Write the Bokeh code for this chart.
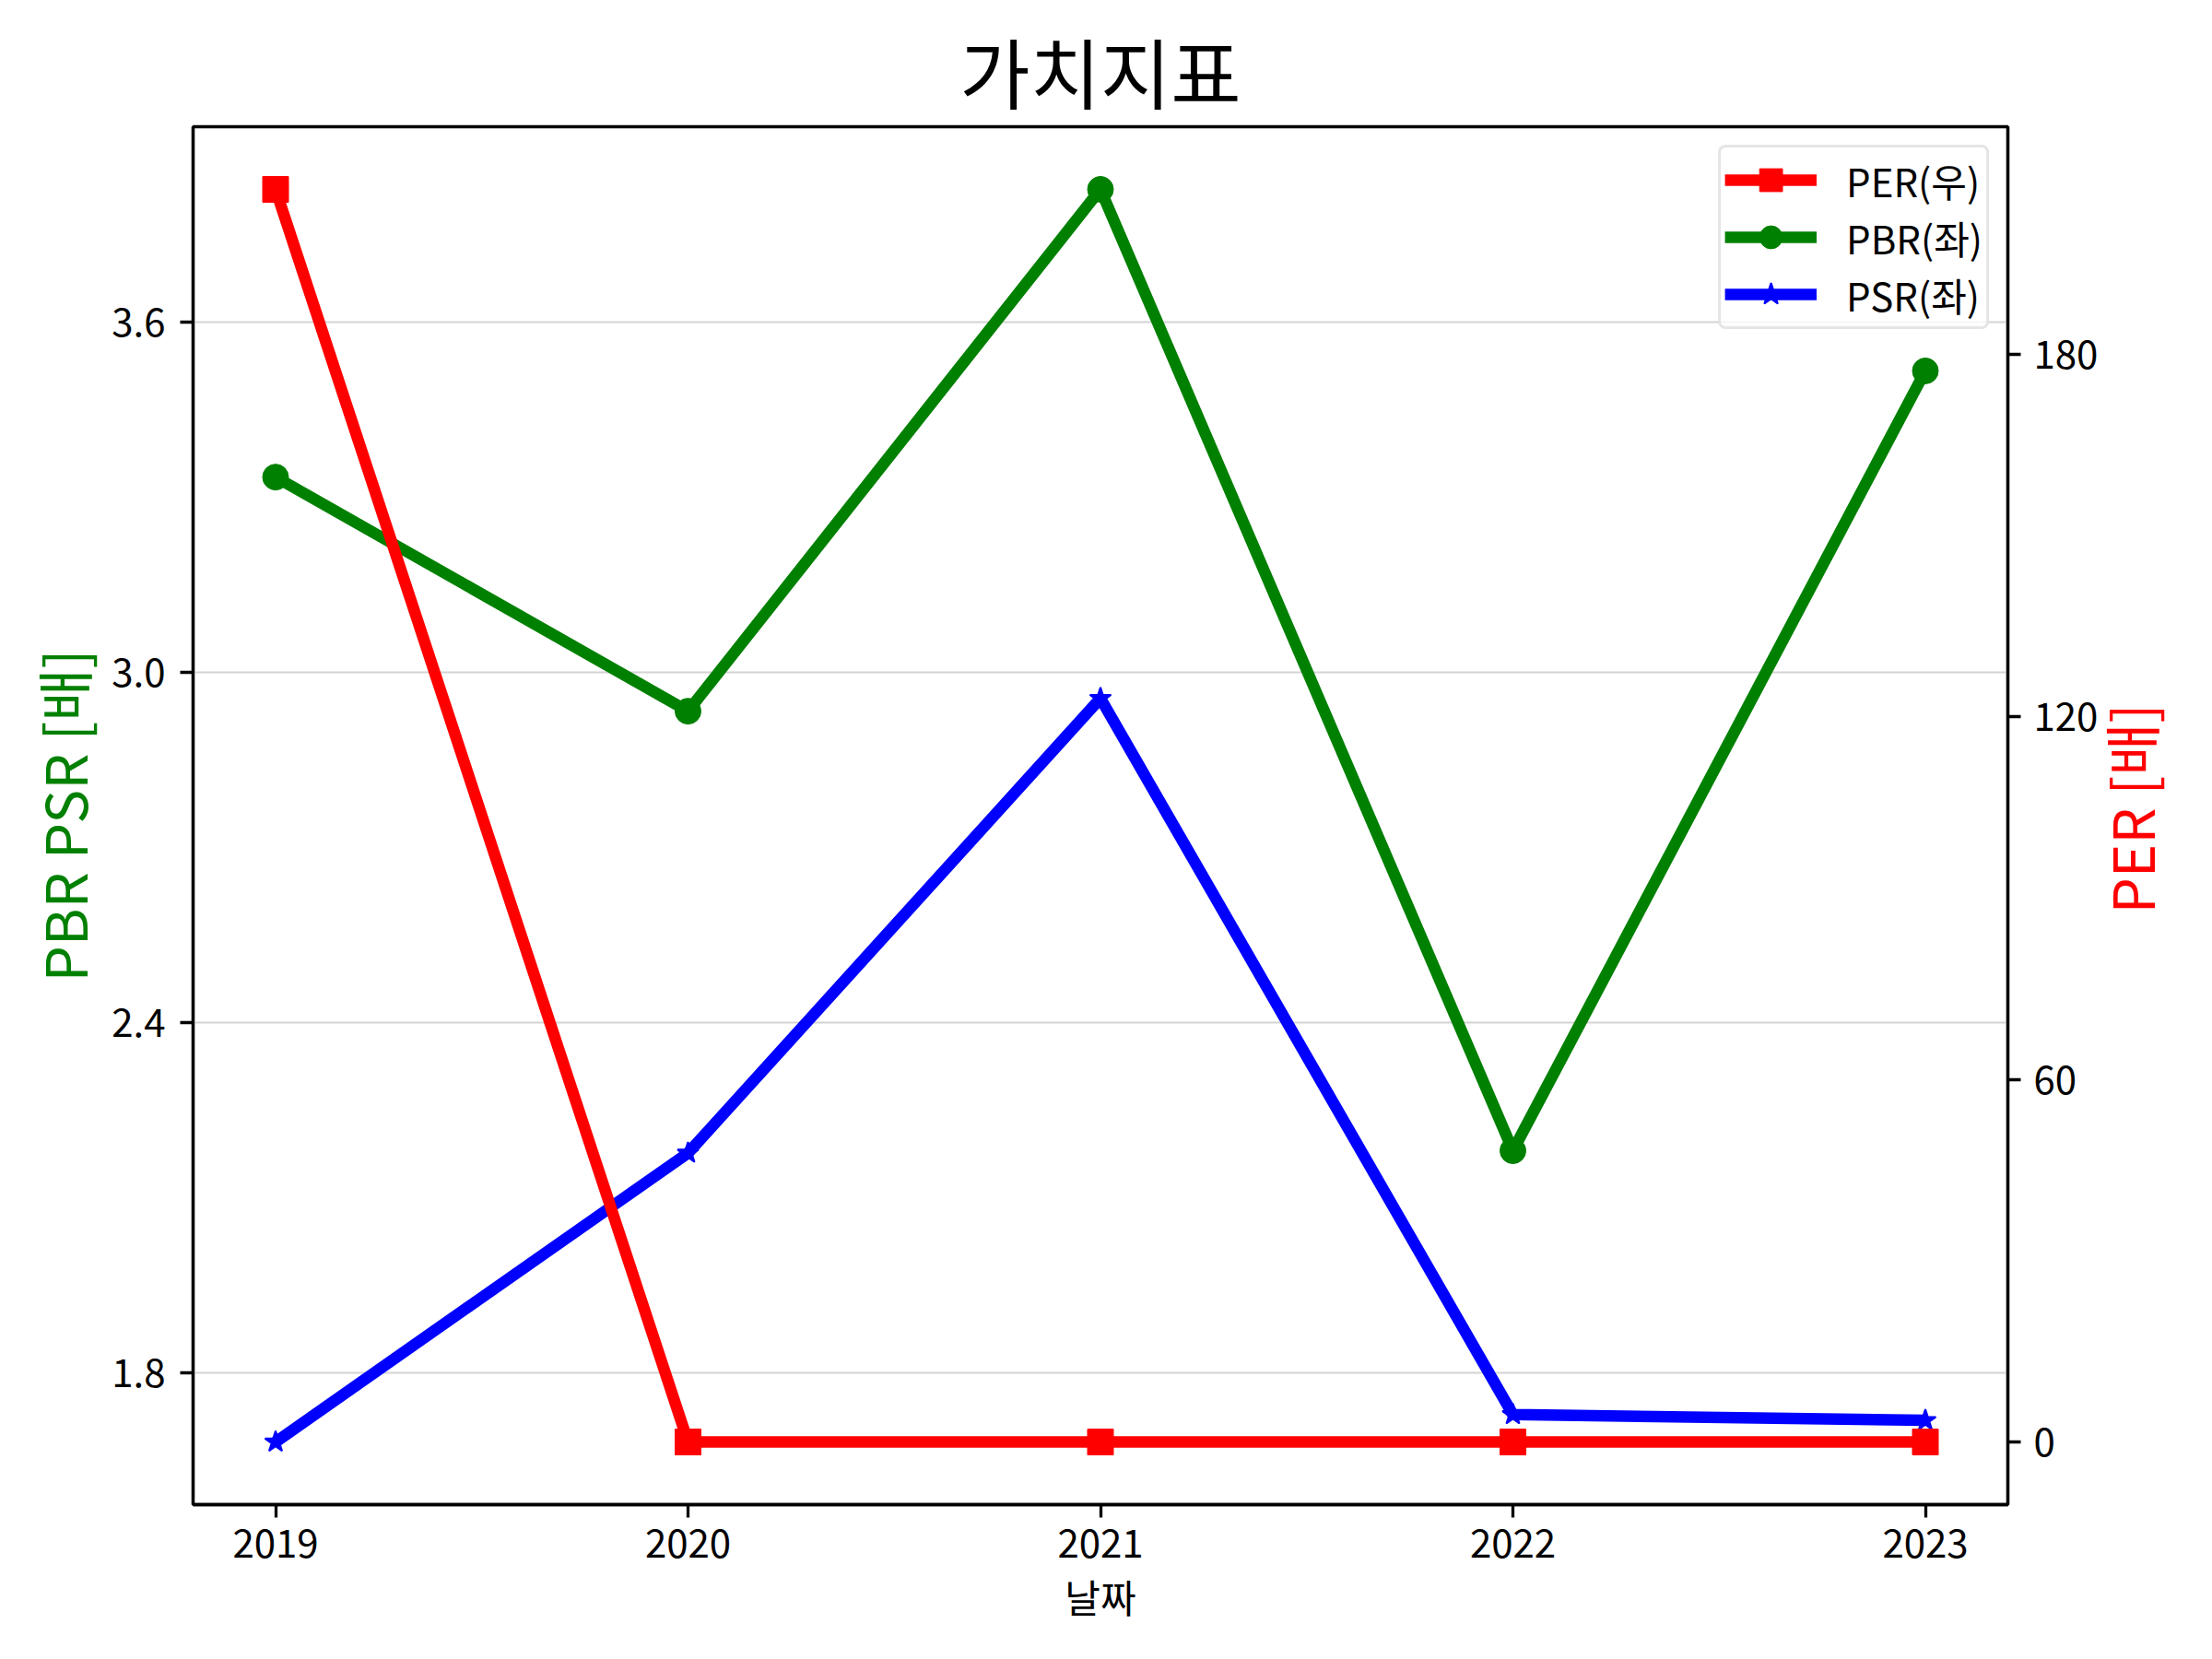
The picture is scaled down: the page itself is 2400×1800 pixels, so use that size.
import math
import json
from bokeh.plotting import figure
from bokeh.models import (Range1d, LinearAxis, FixedTicker, PrintfTickFormatter,
                          CustomJSTickFormatter, Legend, LegendItem)
from bokeh.embed import file_html
from bokeh.resources import INLINE

# ---- data ----
years = [2019, 2020, 2021, 2022, 2023]
per = [207.3, 0.0, 0.0, 0.0, 0.0]
pbr = [3.335, 2.934, 3.828, 2.181, 3.517]
psr = [1.682, 2.177, 2.956, 1.729, 1.719]

title_text = "가치지표"
x_label = "날짜"
left_label = "PBR PSR [배]"
right_label = "PER [배]"
left_ticks = [1.8, 2.4, 3.0, 3.6]
right_ticks = [0, 60, 120, 180]
names = ["PER(우)", "PBR(좌)", "PSR(좌)"]

FONT = "Noto Sans CJK KR"
FW, FH = 1969, 1495


def mpl_limits(vals, margin=0.05):
    lo, hi = min(vals), max(vals)
    span = hi - lo
    return lo - margin * span, hi + margin * span


xlo, xhi = mpl_limits(years)
ylo, yhi = mpl_limits(pbr + psr)
rlo, rhi = mpl_limits(per)

p = figure(frame_width=FW, frame_height=FH,
           x_range=Range1d(xlo, xhi), y_range=Range1d(ylo, yhi),
           output_backend="svg", toolbar_location=None,
           min_border_left=209, min_border_top=137,
           min_border_right=150, min_border_bottom=150,
           background_fill_color="white", border_fill_color="white")
p.extra_y_ranges = {"per": Range1d(rlo, rhi)}

# title
p.title.text = title_text
p.title.align = "center"
p.title.text_font = FONT
p.title.text_font_size = "83px"
p.title.text_font_style = "normal"
p.title.text_color = "black"
p.title.standoff = 4

# outline
p.outline_line_color = "black"
p.outline_line_width = 3.3
p.outline_line_alpha = 1.0

# grids
p.xgrid.visible = False
p.ygrid.grid_line_color = "#d3d3d3"
p.ygrid.grid_line_width = 2


def style_axis(ax):
    ax.axis_line_color = "black"
    ax.axis_line_width = 3.3
    ax.major_tick_line_color = "black"
    ax.major_tick_line_width = 3.3
    ax.major_tick_out = 14
    ax.major_tick_in = 0
    ax.minor_tick_line_color = None
    ax.major_label_text_font = FONT
    ax.major_label_text_font_size = "42px"
    ax.major_label_text_color = "black"
    ax.axis_label_text_font = FONT
    ax.axis_label_text_font_style = "normal"
    ax.axis_label_text_color = "black"


# x axis
xa = p.xaxis[0]
xa.ticker = FixedTicker(ticks=years)
style_axis(xa)
xa.axis_label = x_label
xa.axis_label_text_font_size = "42px"
xa.major_label_standoff = 12
xa.axis_label_standoff = 8

# left y axis
ya = p.yaxis[0]
ya.ticker = FixedTicker(ticks=left_ticks)
ya.formatter = PrintfTickFormatter(format="%.1f")
style_axis(ya)
ya.axis_label = left_label
ya.axis_label_text_font_size = "62px"
ya.axis_label_text_color = "green"
ya.major_label_standoff = 16
ya.axis_label_standoff = 5

# right y axis (PER scale)
ra = LinearAxis(y_range_name="per", ticker=FixedTicker(ticks=right_ticks))
style_axis(ra)
ra.major_label_standoff = 14
p.add_layout(ra, "right")

# right axis title, reading bottom to top like the left one
start_px = 641  # where the title text starts, px above the frame bottom
y0 = ylo + start_px / FH * (yhi - ylo)
rt = LinearAxis(ticker=FixedTicker(ticks=[y0]),
                formatter=CustomJSTickFormatter(
                    code="return " + json.dumps(right_label, ensure_ascii=False) + ";"))
rt.axis_line_color = None
rt.major_tick_line_color = None
rt.minor_tick_line_color = None
rt.major_tick_out = 0
rt.major_tick_in = 0
rt.major_label_orientation = math.pi / 2
rt.major_label_standoff = 31
rt.major_label_text_font = FONT
rt.major_label_text_font_size = "62px"
rt.major_label_text_color = "red"
p.add_layout(rt, "right")

# series
lw = 12.5
g_line = p.line(years, pbr, line_color="green", line_width=lw)
g_pts = p.scatter(years, pbr, marker="circle", size=28, fill_color="green",
                  line_color="green")
b_line = p.line(years, psr, line_color="blue", line_width=lw)
b_pts = p.scatter(years, psr, marker="star", size=24, fill_color="blue",
                  line_color="blue", line_width=2)
r_line = p.line(years, per, line_color="red", line_width=lw, y_range_name="per")
r_pts = p.scatter(years, per, marker="square", size=28, fill_color="red",
                  line_color="red", y_range_name="per")

legend = Legend(items=[
    LegendItem(label=names[0], renderers=[r_line, r_pts]),
    LegendItem(label=names[1], renderers=[g_line, g_pts]),
    LegendItem(label=names[2], renderers=[b_line, b_pts]),
], location="top_right")
legend.label_text_font = FONT
legend.label_text_font_size = "42px"
legend.label_text_color = "black"
legend.glyph_width = 100
legend.glyph_height = 62
legend.label_height = 42
legend.label_standoff = 32
legend.spacing = 0
legend.padding = 4
legend.margin = 20
legend.border_line_color = "#cccccc"
legend.border_line_width = 3
legend.border_radius = 8
legend.background_fill_alpha = 0.8
p.add_layout(legend, "center")

open("out.html", "w").write(file_html(p, INLINE))
